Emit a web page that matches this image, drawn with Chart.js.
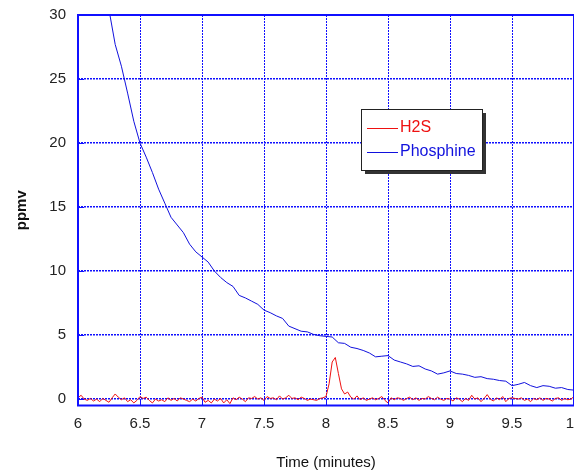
<!DOCTYPE html>
<html>
<head>
<meta charset="utf-8">
<script src="https://cdn.jsdelivr.net/npm/chart.js@4"></script>
<style>
  html, body { margin: 0; padding: 0; background: #fff; overflow: hidden; }
  #wrap { width: 574px; height: 473px; overflow: hidden; }
  canvas { display: block; }
</style>
</head>
<body>
<div id="wrap"><canvas id="grafica" width="600" height="473"></canvas></div>
<script>
// ticks del grafico
const xTicks = [6, 6.5, 7, 7.5, 8, 8.5, 9, 9.5, 10];
const yTicks = [0, 5, 10, 15, 20, 25, 30];

// series
const seriesLabels = ["H2S", "Phosphine"];
const h2sStart = 6, h2sStep = 0.025;
const h2s = [
  0.1, 0.3, 0.0, -0.1, 0.05, -0.15, 0.0, -0.2, 0.05, -0.1,
  -0.25, 0.1, 0.4, 0.15, -0.05, 0.1, -0.2, -0.05, -0.3, -0.1,
  0.2, 0.05, 0.15, -0.1, -0.3, 0.0, -0.15, -0.05, -0.2, 0.1,
  -0.1, 0.05, -0.15, 0.1, 0.0, -0.1, -0.2, 0.0, -0.15, 0.05,
  0.15, -0.25, -0.1, -0.3, 0.0, -0.15, 0.05, -0.3, -0.05, -0.35,
  0.1, -0.05, 0.15, 0.0, -0.2, 0.1, 0.05, 0.2, 0.0, 0.1,
  -0.1, 0.2, 0.05, 0.1, -0.05, 0.25, 0.0, 0.1, 0.3, 0.05,
  0.1, -0.05, 0.15, 0.05, -0.1, 0.0, -0.05, -0.1, 0.05, 0.1,
  0.2, 1.2, 2.9, 3.25, 2.0, 0.8, 0.4, 0.55, 0.15, 0.0,
  0.25, -0.05, 0.1, -0.1, 0.0, 0.1, -0.05, 0.05, 0.2, -0.1,
  -0.3, 0.1, -0.05, 0.1, 0.05, -0.1, 0.05, 0.15, -0.05, 0.1,
  -0.1, 0.05, 0.0, 0.2, 0.05, -0.05, 0.15, 0.0, -0.1, 0.05,
  0.0, -0.15, 0.1, 0.0, -0.2, 0.05, -0.1, 0.3, 0.0, 0.1,
  -0.2, 0.05, 0.35, 0.0, -0.15, 0.1, -0.05, 0.2, -0.2, 0.05,
  0.1, 0.05, 0.0, 0.1, -0.1, 0.0, -0.2, 0.05, -0.05, 0.1,
  -0.1, 0.05, 0.0, -0.15, 0.05, 0.1, -0.1, 0.05, -0.05, 0.0,
  0.2
];
const phosStart = 6.2, phosStep = 0.05;
const phosphine = [
  33.2, 30.4, 27.7, 26.0, 23.9, 21.7, 20.0, 18.9, 17.7, 16.4,
  15.3, 14.2, 13.6, 13.0, 12.1, 11.5, 11.1, 10.7, 10.0, 9.5,
  9.1, 8.8, 8.1, 7.9, 7.65, 7.4, 6.95, 6.75, 6.5, 6.3,
  5.7, 5.5, 5.3, 5.25, 5.05, 4.95, 4.9, 4.85, 4.4, 4.35,
  4.05, 3.95, 3.8, 3.6, 3.3, 3.35, 3.4, 3.05, 2.9, 2.75,
  2.55, 2.6, 2.35, 2.2, 1.95, 2.05, 2.2, 2.0, 1.95, 1.85,
  1.7, 1.75, 1.6, 1.55, 1.45, 1.4, 1.05, 1.15, 1.3, 1.05,
  0.9, 1.05, 1.0, 0.85, 0.9, 0.75, 0.7
];

const aPuntos = (arr, inicio, paso) => arr.map((v, i) => ({ x: +(inicio + i * paso).toFixed(3), y: v }));

const AZUL = "#1010ff";
const FUENTE = "Liberation Sans, Arial, sans-serif";

// marco, marcas internas y leyenda con sombra
const marcoPlugin = {
  id: "marco",
  afterDatasetsDraw(chart) {
    const { ctx, chartArea: a, scales } = chart;
    ctx.save();
    ctx.strokeStyle = AZUL;
    ctx.lineWidth = 1;
    xTicks.forEach(t => {
      const px = Math.round(scales.x.getPixelForValue(t)) + 0.5;
      ctx.beginPath(); ctx.moveTo(px, a.bottom); ctx.lineTo(px, a.bottom - 6); ctx.stroke();
    });
    yTicks.forEach(t => {
      const py = Math.round(scales.y.getPixelForValue(t)) + 0.5;
      ctx.beginPath(); ctx.moveTo(a.left, py); ctx.lineTo(a.left + 6, py); ctx.stroke();
    });
    ctx.lineWidth = 2;
    ctx.strokeRect(a.left, a.top, a.right - a.left, a.bottom - a.top);

    // leyenda
    const bx = 361, by = 109, bw = 121, bh = 61;
    ctx.fillStyle = "#333";
    ctx.fillRect(bx + 4, by + 4, bw, bh);
    ctx.fillStyle = "#fff";
    ctx.fillRect(bx, by, bw, bh);
    ctx.strokeStyle = "#222";
    ctx.lineWidth = 1;
    ctx.strokeRect(bx + 0.5, by + 0.5, bw, bh);
    ctx.font = "16px " + FUENTE;
    ctx.textBaseline = "middle";
    chart.data.datasets.forEach((ds, i) => {
      const ly = by + 19 + i * 24;
      ctx.strokeStyle = ds.borderColor;
      ctx.beginPath(); ctx.moveTo(bx + 6, ly + 0.5); ctx.lineTo(bx + 37, ly + 0.5); ctx.stroke();
      ctx.fillStyle = ds.borderColor;
      ctx.fillText(ds.label, bx + 39, ly);
    });
    ctx.restore();
  }
};

new Chart(document.getElementById("grafica"), {
  type: "line",
  data: {
    datasets: [
      { label: seriesLabels[0], data: aPuntos(h2s, h2sStart, h2sStep), borderColor: "#ee1111", borderWidth: 1, pointRadius: 0, tension: 0 },
      { label: seriesLabels[1], data: aPuntos(phosphine, phosStart, phosStep), borderColor: "#1111dd", borderWidth: 1, pointRadius: 0, tension: 0 }
    ]
  },
  options: {
    responsive: false,
    animation: false,
    devicePixelRatio: 1,
    layout: { padding: { left: 0, right: 26, top: 15, bottom: 1.5 } },
    plugins: { legend: { display: false }, tooltip: { enabled: false } },
    scales: {
      x: {
        type: "linear", min: 6, max: 10,
        afterBuildTicks: s => { s.ticks = xTicks.map(v => ({ value: v })); },
        afterFit: s => { s.paddingLeft = 0; s.paddingRight = 0; },
        ticks: { callback: v => String(v), color: "#222", font: { family: FUENTE, size: 15 }, padding: 9.5, maxRotation: 0 },
        grid: { color: AZUL, lineWidth: 1, drawTicks: false },
        border: { display: false, dash: [2, 1] },
        title: { display: true, text: "Time (minutes)", color: "#111", font: { family: FUENTE, size: 15 }, padding: { top: 11, bottom: 0 } }
      },
      y: {
        type: "linear", min: -0.5, max: 30,
        afterBuildTicks: s => { s.ticks = yTicks.map(v => ({ value: v })); },
        afterFit: s => { s.width = 78; s.paddingTop = 0; s.paddingBottom = 0; },
        ticks: { color: "#222", font: { family: FUENTE, size: 15 }, padding: 12 },
        grid: { color: AZUL, lineWidth: 1.5, drawTicks: false },
        border: { display: false, dash: [2, 1] },
        title: { display: true, text: "ppmv", color: "#111", font: { family: FUENTE, size: 15, weight: "bold" }, padding: { top: 13, bottom: 0 } }
      }
    }
  },
  plugins: [marcoPlugin]
});
</script>
</body>
</html>
